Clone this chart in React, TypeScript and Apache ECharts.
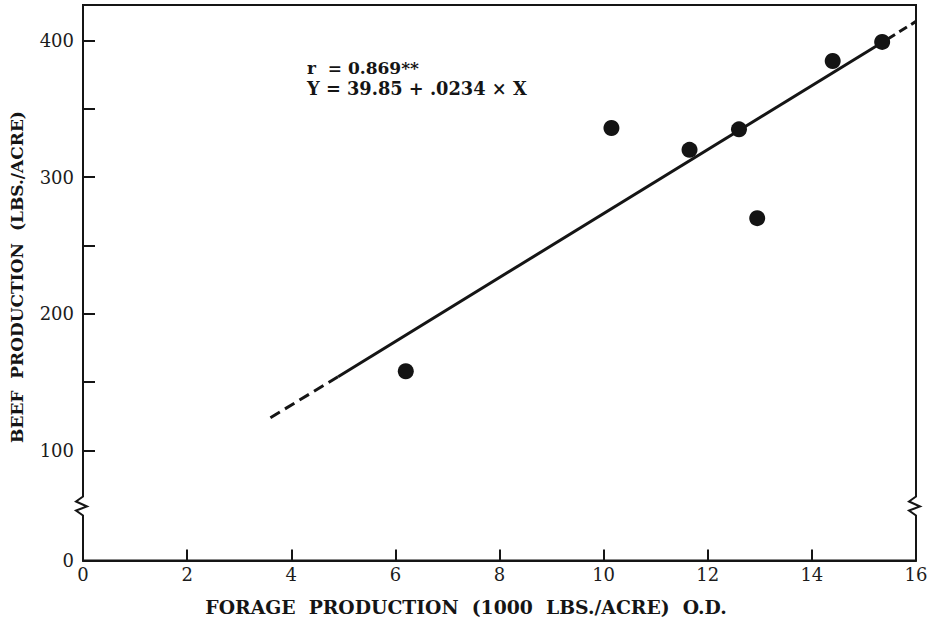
import React, { useEffect, useRef } from "react";
import * as echarts from "echarts";

const forage = [6.2, 10.15, 11.65, 12.6, 12.95, 14.4, 15.35];
const beef = [158, 336, 320, 335, 270, 385, 399];
const fitLowX = [3.6, 4.9];
const fitLowY = [124, 154];
const fitMainX = [4.9, 15.45];
const fitMainY = [154, 401];
const fitHighX = [15.45, 16];
const fitHighY = [401, 414];
const yTickValues = [100, 150, 200, 250, 300, 350, 400];
const yTickLabels = [100, 200, 300, 400];
const xTickLabels = [0, 2, 4, 6, 8, 10, 12, 14, 16];
const annotation = ["r  = 0.869**", "Y = 39.85 + .0234 \u00d7 X"];
const xTitle = "FORAGE  PRODUCTION  (1000  LBS./ACRE)  O.D.";
const yTitle = "BEEF  PRODUCTION  (LBS./ACRE)";

// broken axis: the bottom of the plot stands for 0
const Y_AXIS_BOTTOM = 19.5;
const Y_AXIS_TOP = 426;

const FONT = "DejaVu Serif";
const INK = "#151515";

function zipXY(xs: number[], ys: number[]) {
  return xs.map((x, i) => [x, ys[i]]);
}

export default function App() {
  const ref = useRef<HTMLDivElement>(null);
  useEffect(() => {
    if (!ref.current) return;
    const chart = echarts.init(ref.current, null, { renderer: "svg" });
    const lineStyleBase = { color: INK, width: 3 };
    chart.setOption({
      animation: false,
      backgroundColor: "#fff",
      grid: {
        left: 83,
        right: 21,
        top: 5,
        bottom: 65.5,
        show: true,
        borderColor: INK,
        borderWidth: 2,
        backgroundColor: "transparent",
      },
      xAxis: {
        type: "value",
        min: 0,
        max: 16,
        interval: 2,
        axisLine: { show: true, lineStyle: { color: INK, width: 2 } },
        axisTick: { show: true, inside: true, length: 11, lineStyle: { color: INK, width: 2 } },
        axisLabel: {
          color: "#1c1c1c",
          fontFamily: FONT,
          fontSize: 18,
          margin: 5,
          customValues: xTickLabels,
        },
        splitLine: { show: false },
      },
      yAxis: {
        type: "value",
        min: Y_AXIS_BOTTOM,
        max: Y_AXIS_TOP,
        axisLine: { show: true, lineStyle: { color: INK, width: 2 } },
        axisTick: {
          show: true,
          inside: true,
          length: 12,
          customValues: yTickValues,
          lineStyle: { color: INK, width: 2 },
        },
        axisLabel: {
          color: "#1c1c1c",
          fontFamily: FONT,
          fontSize: 18,
          margin: 9,
          customValues: [Y_AXIS_BOTTOM, ...yTickLabels],
          formatter: (v: number) => (v === Y_AXIS_BOTTOM ? "0" : String(v)),
        },
        splitLine: { show: false },
      },
      series: [
        {
          type: "line",
          data: zipXY(fitLowX, fitLowY),
          symbol: "none",
          lineStyle: { ...lineStyleBase, type: [11, 6] },
          z: 2,
        },
        {
          type: "line",
          data: zipXY(fitMainX, fitMainY),
          symbol: "none",
          lineStyle: { ...lineStyleBase },
          z: 2,
        },
        {
          type: "line",
          data: zipXY(fitHighX, fitHighY),
          symbol: "none",
          lineStyle: { ...lineStyleBase, type: [9, 5] },
          z: 2,
        },
        {
          type: "scatter",
          data: zipXY(forage, beef),
          symbol: "circle",
          symbolSize: 16,
          itemStyle: { color: "#141414", opacity: 1 },
          z: 3,
        },
      ],
    });

    const y0 = chart.convertToPixel({ yAxisIndex: 0 }, Y_AXIS_BOTTOM) as number;
    const y100 = chart.convertToPixel({ yAxisIndex: 0 }, 100) as number;
    const xl = chart.convertToPixel({ xAxisIndex: 0 }, 0) as number;
    const xr = chart.convertToPixel({ xAxisIndex: 0 }, 16) as number;
    const yc = (y0 + y100) / 2;
    const zig = (x: number) => [
      { type: "rect", shape: { x: x - 4, y: yc - 10, width: 8, height: 20 }, style: { fill: "#fff" }, z: 10 },
      {
        type: "polyline",
        shape: {
          points: [
            [x, yc - 12],
            [x, yc - 9],
            [x - 7, yc - 4],
            [x + 4, yc + 1],
            [x - 7, yc + 5],
            [x, yc + 10],
            [x, yc + 12],
          ],
        },
        style: { stroke: INK, lineWidth: 2, fill: "none" },
        z: 11,
      },
    ];
    chart.setOption({
      graphic: [
        ...zig(xl),
        ...zig(xr),
        {
          type: "text",
          x: 307,
          y: 68,
          style: { text: annotation[0], fontFamily: FONT, fontWeight: "bold", fontSize: 17, fill: INK, verticalAlign: "middle" },
          z: 12,
        },
        {
          type: "text",
          x: 307,
          y: 88,
          style: { text: annotation[1], fontFamily: FONT, fontWeight: "bold", fontSize: 17.8, fill: INK, verticalAlign: "middle" },
          z: 12,
        },
        {
          type: "text",
          x: 466,
          y: 607,
          style: { text: xTitle, fontFamily: FONT, fontWeight: "bold", fontSize: 18.8, fill: INK, align: "center", verticalAlign: "middle" },
          z: 12,
        },
        {
          type: "text",
          x: 17,
          y: 277,
          rotation: Math.PI / 2,
          style: { text: yTitle, fontFamily: FONT, fontWeight: "bold", fontSize: 17, fill: INK, align: "center", verticalAlign: "middle" },
          z: 12,
        },
      ],
    });
    return () => chart.dispose();
  }, []);
  return <div ref={ref} style={{ width: 937, height: 626, position: "absolute", left: 0, top: 0 }} />;
}
